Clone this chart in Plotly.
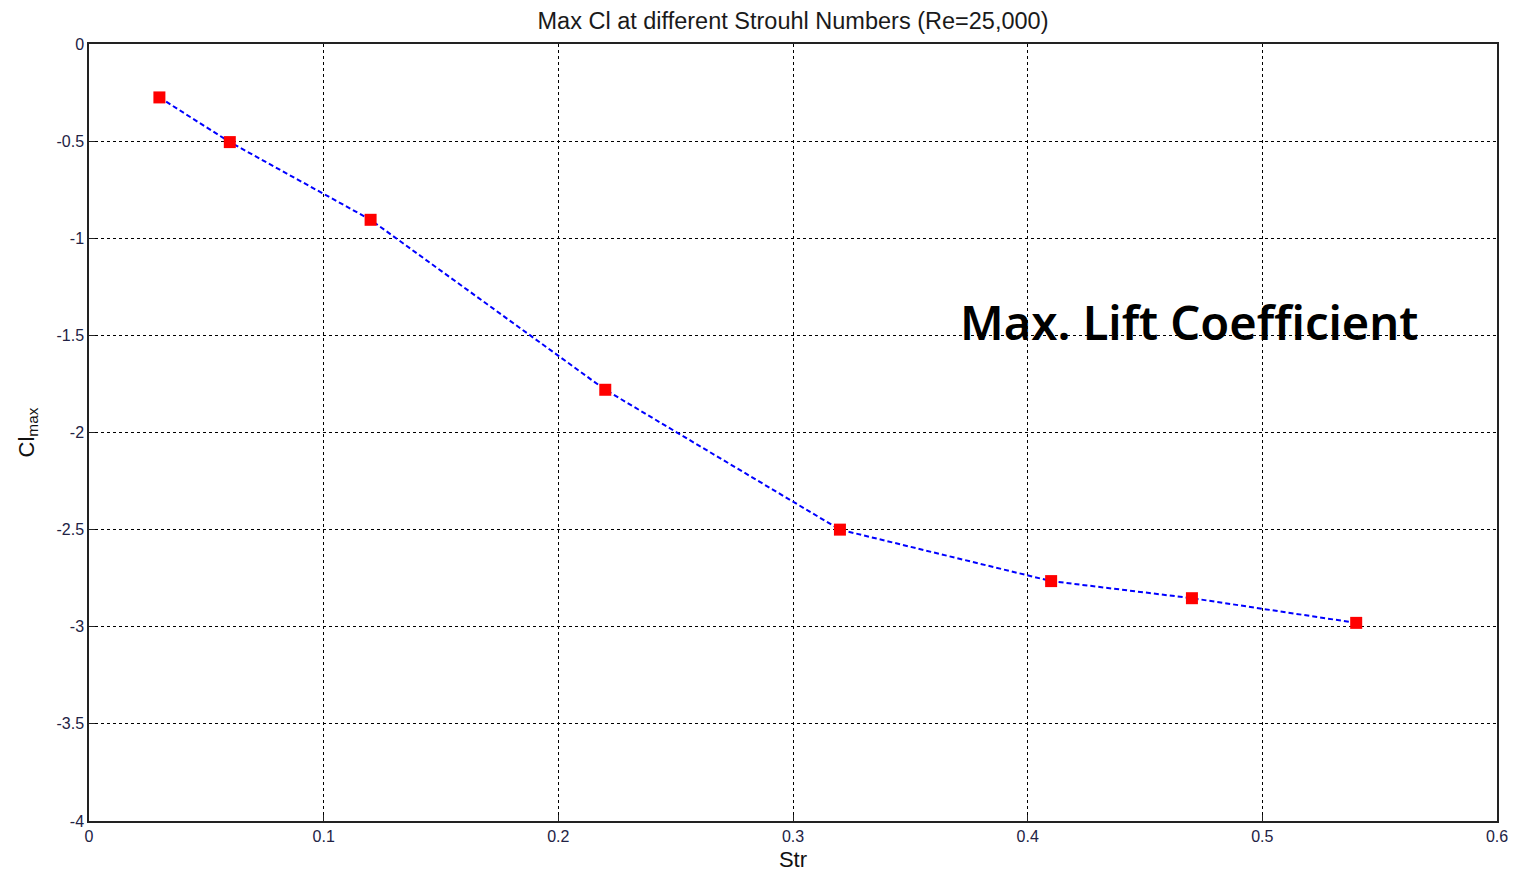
import plotly.graph_objects as go

strouhal = [0.03, 0.06, 0.12, 0.22, 0.32, 0.41, 0.47, 0.54]
cl_max = [-0.275, -0.505, -0.905, -1.78, -2.50, -2.765, -2.853, -2.98]

x_ticks = [0, 0.1, 0.2, 0.3, 0.4, 0.5, 0.6]
x_tick_text = ["0", "0.1", "0.2", "0.3", "0.4", "0.5", "0.6"]
y_ticks = [0, -0.5, -1, -1.5, -2, -2.5, -3, -3.5, -4]
y_tick_text = ["0", "-0.5", "-1", "-1.5", "-2", "-2.5", "-3", "-3.5", "-4"]

sans = "Arial, Liberation Sans, sans-serif"
fig = go.Figure()
fig.add_trace(go.Scatter(
    x=strouhal, y=cl_max, mode="lines+markers",
    line=dict(color="#0000FF", width=2, dash="5px,3px"),
    marker=dict(symbol="square", size=12, color="#FF0000", line=dict(width=0)),
    showlegend=False,
))

fig.update_layout(
    width=1515, height=873,
    paper_bgcolor="white", plot_bgcolor="white",
    margin=dict(l=89, r=18, t=44, b=52, autoexpand=False),
    title=dict(text="Max Cl at different Strouhl Numbers (Re=25,000)",
               xref="paper", x=0.5, xanchor="center", y=0.976, yanchor="middle",
               font=dict(family=sans, size=23.5, color="#1a1a1a")),
    font=dict(family=sans, size=16, color="#000000"),
)
fig.update_xaxes(
    range=[0, 0.6], tickvals=x_ticks, ticktext=x_tick_text,
    showgrid=True, gridcolor="#000000", gridwidth=1, griddash="3px,3px",
    showline=True, linecolor="#222222", linewidth=1.5, mirror=True,
    ticks="inside", ticklen=6, tickcolor="#222222",
    zeroline=False, automargin=False,
    tickfont=dict(family=sans, size=16, color="#222244"),
    title=dict(text="Str", font=dict(family=sans, size=22, color="#111111"), standoff=8),
)
fig.update_yaxes(
    range=[-4, 0], tickvals=y_ticks, ticktext=y_tick_text,
    showgrid=True, gridcolor="#000000", gridwidth=1, griddash="3px,3px",
    showline=True, linecolor="#222222", linewidth=1.5, mirror=True,
    ticks="inside", ticklen=6, tickcolor="#222222",
    zeroline=False, automargin=False,
    tickfont=dict(family=sans, size=16, color="#222244"),
    title=dict(text="Cl<sub>max</sub>", font=dict(family=sans, size=22, color="#111111"), standoff=16),
)
fig.add_annotation(
    text="Max. Lift Coefficient", x=0.3705, y=-1.43, xref="x", yref="y",
    xanchor="left", yanchor="middle", showarrow=False,
    font=dict(family="Noto Sans, sans-serif", size=47, color="#000000", weight=600),
)
fig.write_html("out.html")
